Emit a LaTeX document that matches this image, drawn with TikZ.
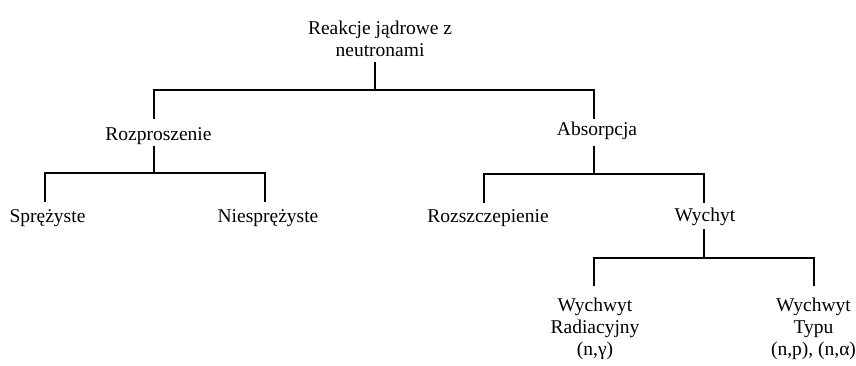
\documentclass[tikz,border=0pt]{standalone}
\usepackage{fontspec}
\setmainfont{Liberation Serif}
\begin{document}
\begin{tikzpicture}[x=1pt,y=-1pt,
  lbl/.style={anchor=base,inner sep=0pt,font=\fontsize{19.5}{21.8}\selectfont,align=center},
  conn/.style={line width=1.2pt,line cap=rect}]
\useasboundingbox (0,0) rectangle (856,365);
% nodes (multi-line nodes: base anchor = last line)
\node[lbl] (root) at (380,56) {Reakcje jądrowe z\\neutronami};
\node[lbl] (roz) at (158.5,140) {Rozproszenie};
\node[lbl] (abs) at (597,135) {Absorpcja};
\node[lbl] (spr) at (47.5,222) {Sprężyste};
\node[lbl] (nspr) at (268,222) {Niesprężyste};
\node[lbl] (rsz) at (488,222) {Rozszczepienie};
\node[lbl] (wych) at (705,221) {Wychyt};
\node[lbl] (rad) at (595,355.5) {Wychwyt\\Radiacyjny\\(n,γ)};
\node[lbl] (typ) at (813.5,355.5) {Wychwyt\\Typu\\(n,p), (n,α)};
% junction coordinates
\coordinate (r1) at (375,63);  \coordinate (r2) at (375,90);
\coordinate (rl) at (154,118); \coordinate (rr) at (594,118);
\coordinate (a1) at (154,147); \coordinate (a2) at (154,173);
\coordinate (al) at (45,201);  \coordinate (ar) at (265,201);
\coordinate (b1) at (594,147); \coordinate (b2) at (594,174);
\coordinate (bl) at (484,202); \coordinate (br) at (704,202);
\coordinate (c1) at (704,230); \coordinate (c2) at (704,258);
\coordinate (cl) at (594,285); \coordinate (cr) at (814,285);
% connectors
\draw[conn] (r1) -- (r2);
\draw[conn] (rl) |- (r2) -| (rr);
\draw[conn] (a1) -- (a2);
\draw[conn] (al) |- (a2) -| (ar);
\draw[conn] (b1) -- (b2);
\draw[conn] (bl) |- (b2) -| (br);
\draw[conn] (c1) -- (c2);
\draw[conn] (cl) |- (c2) -| (cr);
\end{tikzpicture}
\end{document}
